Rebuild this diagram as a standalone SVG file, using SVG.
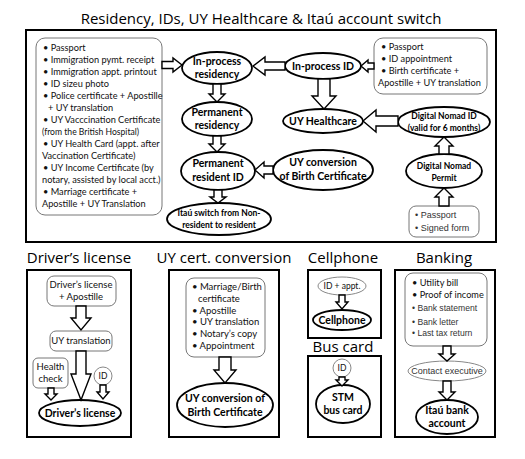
<svg xmlns="http://www.w3.org/2000/svg" width="525" height="459" viewBox="0 0 525 459">
<style>
.frame{fill:none;stroke:#000;stroke-width:2}
.list{fill:#fff;stroke:#777;stroke-width:1}
.node{fill:#fff;stroke:#000;stroke-width:1.8}
.thin{fill:#fff;stroke:#888;stroke-width:1}
.arr{fill:#fff;stroke:#000;stroke-width:1.4;stroke-linejoin:miter}
.h1{font-family:"Open Sans","Noto Sans",sans-serif;font-size:15px;fill:#000;text-anchor:middle}
.li{font-family:Lato,"Liberation Sans",sans-serif;font-size:9.2px;fill:#111}
.la{font-family:"Liberation Sans",Arial,sans-serif;font-size:8.6px;fill:#333}
.b{font-family:Lato,"Liberation Sans",sans-serif;font-weight:bold;font-size:10.5px;fill:#000;text-anchor:middle}
.bs{font-family:Lato,"Liberation Sans",sans-serif;font-weight:bold;font-size:8.5px;fill:#000;text-anchor:middle}
.c{font-family:Lato,"Liberation Sans",sans-serif;font-size:9.5px;fill:#111;text-anchor:middle}
</style>
<rect width="525" height="459" fill="#fff"/>
<text class="h1" x="261" y="24">Residency, IDs, UY Healthcare &amp; Itaú account switch</text>
<rect class="frame" x="26" y="30" width="470" height="212"/>

<g id="req-residency">
<rect class="list" x="36" y="38" width="126" height="177" rx="9"/>
<text class="li" x="43" y="51">• Passport</text>
<text class="li" x="43" y="63">• Immigration pymt. receipt</text>
<text class="li" x="43" y="75">• Immigration appt. printout</text>
<text class="li" x="43" y="87">• ID sizeu photo</text>
<text class="li" x="43" y="99">• Police certificate + Apostille</text>
<text class="li" x="48" y="111">+ UY translation</text>
<text class="li" x="43" y="123">• UY Vacccination Certificate</text>
<text class="li" x="42" y="135" style="font-size:8.6px">(from the British Hospital)</text>
<text class="li" x="43" y="147">• UY Health Card (appt. after</text>
<text class="li" x="42" y="159">Vaccination Certificate)</text>
<text class="li" x="43" y="171">• UY Income Certificate (by</text>
<text class="li" x="42" y="183">notary, assisted by local acct.)</text>
<text class="li" x="43" y="195">• Marriage certificate +</text>
<text class="li" x="42" y="207">Apostille + UY Translation</text>
</g>

<g id="in-process-residency">
<ellipse class="node" cx="217" cy="68" rx="35" ry="16"/>
<text class="b" x="217" y="65">In-process</text>
<text class="b" x="217" y="78">residency</text>
</g>
<g id="permanent-residency">
<ellipse class="node" cx="217" cy="119" rx="35" ry="17"/>
<text class="b" x="217" y="116">Permanent</text>
<text class="b" x="217" y="129">residency</text>
</g>
<g id="permanent-resident-id">
<ellipse class="node" cx="218" cy="171" rx="37" ry="19"/>
<text class="b" x="218" y="167">Permanent</text>
<text class="b" x="218" y="181">resident ID</text>
</g>
<g id="itau-switch">
<ellipse class="node" cx="219" cy="219" rx="52" ry="16"/>
<text class="bs" x="219" y="216">Itaú switch from Non-</text>
<text class="bs" x="219" y="228">resident to resident</text>
</g>
<g id="in-process-id">
<ellipse class="node" cx="323" cy="66" rx="38" ry="13"/>
<text class="b" x="323" y="70">In-process ID</text>
</g>
<g id="req-id">
<rect class="list" x="374" y="38" width="113" height="56" rx="9"/>
<text class="li" x="381" y="50">• Passport</text>
<text class="li" x="381" y="62">• ID appointment</text>
<text class="li" x="381" y="74">• Birth certificate +</text>
<text class="li" x="378" y="86">Apostille + UY translation</text>
</g>
<g id="uy-healthcare">
<ellipse class="node" cx="323" cy="121" rx="40" ry="12"/>
<text class="b" x="323" y="125">UY Healthcare</text>
</g>
<g id="uy-conversion">
<ellipse class="node" cx="323" cy="170" rx="50" ry="20"/>
<text class="b" x="323" y="166">UY conversion</text>
<text class="b" x="323" y="180">of Birth Certificate</text>
</g>
<g id="digital-nomad-id">
<ellipse class="node" cx="444" cy="122" rx="46" ry="15"/>
<text class="bs" x="444" y="119">Digital Nomad ID</text>
<text class="bs" x="444" y="131">(valid for 6 months)</text>
</g>
<g id="digital-nomad-permit">
<ellipse class="node" cx="444" cy="171" rx="38" ry="17"/>
<text class="bs" x="444" y="169">Digital Nomad</text>
<text class="bs" x="444" y="181">Permit</text>
</g>
<g id="req-dn">
<rect class="list" x="409" y="206" width="70" height="31" rx="7"/>
<text class="la" x="415" y="218" style="font-size:9px">• Passport</text>
<text class="la" x="415" y="231" style="font-size:9px">• Signed form</text>
</g>

<!-- bottom sections -->
<text class="h1" x="79" y="263">Driver’s license</text>
<text class="h1" x="224" y="263">UY cert. conversion</text>
<text class="h1" x="343" y="263">Cellphone</text>
<text class="h1" x="444" y="263">Banking</text>
<text class="h1" x="343" y="352">Bus card</text>

<rect class="frame" x="27" y="270" width="104" height="167"/>
<rect class="frame" x="169" y="270" width="110" height="167"/>
<rect class="frame" x="308" y="270" width="73" height="68"/>
<rect class="frame" x="308" y="356" width="73" height="81"/>
<rect class="frame" x="395" y="270" width="100" height="167"/>

<g id="dl-docs">
<rect class="list" x="47" y="276" width="69" height="30" rx="7"/>
<text class="c" x="81" y="288">Driver’s license</text>
<text class="c" x="81" y="300">+ Apostille</text>
</g>
<g id="dl-translation">
<rect class="list" x="50" y="331" width="62" height="20" rx="6"/>
<text class="c" x="81" y="344">UY translation</text>
</g>
<g id="dl-health">
<rect class="list" x="33" y="358" width="35" height="30" rx="5"/>
<text class="c" x="50.5" y="370">Health</text>
<text class="c" x="50.5" y="382">check</text>
</g>
<g id="dl-id">
<circle class="thin" cx="103" cy="376" r="9"/>
<text class="c" x="103" y="379" style="font-size:8.5px">ID</text>
</g>
<g id="drivers-license">
<ellipse class="node" cx="80" cy="413" rx="41" ry="13"/>
<text class="b" x="80" y="417">Driver’s license</text>
</g>

<g id="uc-docs">
<rect class="list" x="186" y="278" width="79" height="79" rx="8"/>
<text class="li" x="192" y="290" style="font-size:9.5px">• Marriage/Birth</text>
<text class="li" x="198" y="302" style="font-size:9.5px">certificate</text>
<text class="li" x="192" y="314" style="font-size:9.5px">• Apostille</text>
<text class="li" x="192" y="325" style="font-size:9.5px">• UY translation</text>
<text class="li" x="192" y="337" style="font-size:9.5px">• Notary’s copy</text>
<text class="li" x="192" y="349" style="font-size:9.5px">• Appointment</text>
</g>
<g id="uc-result">
<ellipse class="node" cx="225" cy="405" rx="48" ry="22"/>
<text class="b" x="225" y="402">UY conversion of</text>
<text class="b" x="225" y="416">Birth Certificate</text>
</g>

<g id="cell-docs">
<ellipse class="thin" cx="342" cy="286" rx="24" ry="9"/>
<text class="c" x="342" y="289" style="font-size:8.5px">ID + appt.</text>
</g>
<g id="cellphone">
<ellipse class="node" cx="342" cy="320" rx="29" ry="10"/>
<text class="b" x="342" y="324">Cellphone</text>
</g>
<g id="bus-id">
<circle class="thin" cx="342" cy="368" r="9"/>
<text class="c" x="342" y="371" style="font-size:8.5px">ID</text>
</g>
<g id="stm-bus-card">
<ellipse class="node" cx="343" cy="404" rx="27" ry="19"/>
<text class="b" x="343" y="401">STM</text>
<text class="b" x="343" y="414">bus card</text>
</g>

<g id="bank-docs">
<rect class="list" x="405" y="273" width="82" height="73" rx="8"/>
<text class="li" x="412" y="286">• Utility bill</text>
<text class="li" x="412" y="298">• Proof of income</text>
<text class="la" x="412" y="311">• Bank statement</text>
<text class="la" x="412" y="325">• Bank letter</text>
<text class="la" x="412" y="336">• Last tax return</text>
</g>
<g id="contact-executive">
<ellipse class="thin" cx="447" cy="371" rx="39" ry="10"/>
<text class="la" x="447" y="374" style="text-anchor:middle;font-size:9px">Contact executive</text>
</g>
<g id="itau-bank-account">
<ellipse class="node" cx="447" cy="417" rx="31" ry="17"/>
<text class="b" x="447" y="414">Itaú bank</text>
<text class="b" x="447" y="427">account</text>
</g>

<g id="connectors">
<path class="arr" d="M162,61.5 L173,61.5 L173,58 L182,65 L173,72 L173,68.5 L162,68.5 Z"/>
<path class="arr" d="M285,62 L265,62 L265,57 L253,66 L265,75 L265,70 L285,70 Z"/>
<path class="arr" d="M374,63 L368,63 L368,60 L361,66 L368,72 L368,69 L374,69 Z"/>
<path class="arr" d="M213,84 L221,84 L221,94 L225,94 L217,102 L209,94 L213,94 Z"/>
<path class="arr" d="M213,136 L221,136 L221,144 L225,144 L217,152 L209,144 L213,144 Z"/>
<path class="arr" d="M214,190 L222,190 L222,197 L226,197 L218,203 L210,197 L214,197 Z"/>
<path class="arr" d="M273,166 L264,166 L264,162 L255,170 L264,178 L264,174 L273,174 Z"/>
<path class="arr" d="M318,79 L330,79 L330,96 L336,96 L324,109 L312,96 L318,96 Z"/>
<path class="arr" d="M398,116 L376,116 L376,110 L363,121 L376,132 L376,126 L398,126 Z"/>
<path class="arr" d="M439,154 L449,154 L449,146 L453,146 L444,137 L435,146 L439,146 Z"/>
<path class="arr" d="M439,206 L449,206 L449,197 L453,197 L444,188 L435,197 L439,197 Z"/>
<path class="arr" d="M76,306 L86,306 L86,318 L91,318 L81,330 L71,318 L76,318 Z"/>
<path class="arr" d="M76,351 L86,351 L86,374 L91,374 L81,400 L71,374 L76,374 Z"/>
<path class="arr" d="M48,388 L54,388 L54,394 L57,394 L51,400 L45,394 L48,394 Z"/>
<path class="arr" d="M100,385 L106,385 L106,392 L109,392 L103,399 L97,392 L100,392 Z"/>
<path class="arr" d="M219,357 L231,357 L231,370 L236,370 L225,383 L214,370 L219,370 Z"/>
<path class="arr" d="M339,295 L345,295 L345,302 L348,302 L342,309 L336,302 L339,302 Z"/>
<path class="arr" d="M339,377 L345,377 L345,380 L348,380 L342,386 L336,380 L339,380 Z"/>
<path class="arr" d="M443,346 L451,346 L451,354 L455,354 L447,361 L439,354 L443,354 Z"/>
<path class="arr" d="M443,381 L451,381 L451,392 L455,392 L447,400 L439,392 L443,392 Z"/>
</g>
</svg>
